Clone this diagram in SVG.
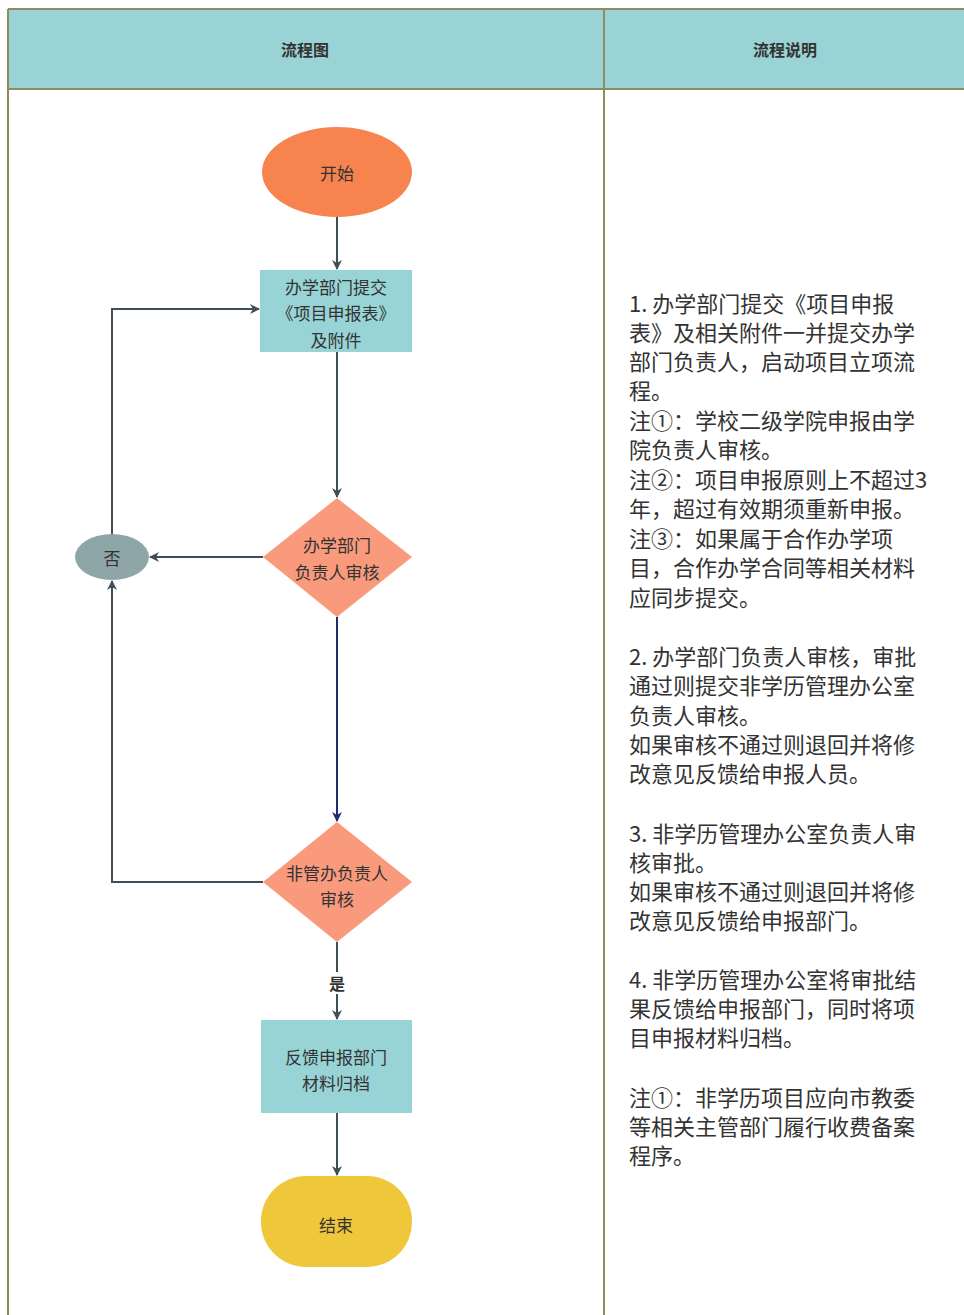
<svg xmlns="http://www.w3.org/2000/svg" width="964" height="1315" viewBox="0 0 964 1315">
<style>
.cjk{font-family:"Noto Sans CJK SC","Liberation Sans",sans-serif;fill:#333333}
.hdr{font-size:16px;font-weight:bold;text-anchor:middle;dominant-baseline:central}
.nt{font-size:17px;text-anchor:middle;dominant-baseline:central}
.desc{font-size:22px;dominant-baseline:central}
.ln{fill:none;stroke:#3E4F57;stroke-width:2}
.grid{stroke:#8C8C5E;stroke-width:2;fill:none}
</style>
<defs>
<marker id="ah" viewBox="0 0 10 10" refX="9" refY="5" markerWidth="10" markerHeight="10" markerUnits="userSpaceOnUse" orient="auto">
<path d="M0,0 L10,5 L0,10 L3,5 Z" fill="#3E4F57"/>
</marker>
<marker id="ahn" viewBox="0 0 10 10" refX="9" refY="5" markerWidth="10" markerHeight="10" markerUnits="userSpaceOnUse" orient="auto">
<path d="M0,0 L10,5 L0,10 L3,5 Z" fill="#1E2F6B"/>
</marker>
</defs>
<rect x="0" y="0" width="964" height="1315" fill="#ffffff"/>
<g id="table">
<rect x="8" y="9" width="960" height="80" fill="#9AD3D5"/>
<path class="grid" d="M8,9 H964 M8,89 H964 M8,9 V1315 M604,9 V1315"/>
<text class="cjk hdr" x="305" y="49">流程图</text>
<text class="cjk hdr" x="785" y="49">流程说明</text>
</g>
<g id="connectors">
<path class="ln" d="M337,217 V269" marker-end="url(#ah)"/>
<path class="ln" d="M337,352 V497" marker-end="url(#ah)"/>
<path class="ln" d="M263,557 H150" marker-end="url(#ah)"/>
<path class="ln" d="M112,534 V309 H259" marker-end="url(#ah)"/>
<path d="M337,617 V821" fill="none" stroke="#1E2F6B" stroke-width="2" marker-end="url(#ahn)"/>
<path class="ln" d="M263,882 H112 V581" marker-end="url(#ah)"/>
<path class="ln" d="M337,942 V972"/>
<path class="ln" d="M337,994 V1019" marker-end="url(#ah)"/>
<text class="cjk" x="337" y="983" font-size="16" font-weight="bold" text-anchor="middle" dominant-baseline="central">是</text>
<path class="ln" d="M337,1113 V1175" marker-end="url(#ah)"/>
</g>
<g id="start">
<ellipse cx="337" cy="172" rx="75" ry="45" fill="#F7834F"/>
<text class="cjk nt" x="337" y="172">开始</text>
</g>
<g id="submit">
<rect x="260" y="270" width="152" height="82" fill="#98D3D6"/>
<text class="cjk nt" x="336" y="286">办学部门提交</text>
<text class="cjk nt" x="336" y="312">《项目申报表》</text>
<text class="cjk nt" x="336" y="339">及附件</text>
</g>
<g id="review1">
<polygon points="337,498 412,557 337,617 263,557" fill="#F99A7D"/>
<text class="cjk nt" x="337" y="544">办学部门</text>
<text class="cjk nt" x="337" y="571">负责人审核</text>
</g>
<g id="no">
<ellipse cx="112" cy="557" rx="37" ry="23" fill="#8FA6A9"/>
<text class="cjk nt" x="112" y="557">否</text>
</g>
<g id="review2">
<polygon points="337,822 412,882 337,942 263,882" fill="#F99A7D"/>
<text class="cjk nt" x="337" y="872">非管办负责人</text>
<text class="cjk nt" x="337" y="898">审核</text>
</g>
<g id="archive">
<rect x="261" y="1020" width="151" height="93" fill="#98D3D6"/>
<text class="cjk nt" x="336" y="1056">反馈申报部门</text>
<text class="cjk nt" x="336" y="1082">材料归档</text>
</g>
<g id="end">
<rect x="261" y="1176" width="151" height="91" rx="45" ry="45" fill="#EEC73A"/>
<text class="cjk nt" x="336" y="1224">结束</text>
</g>
<g id="description">
<text class="cjk desc" x="629">
<tspan x="629" y="302">1. 办学部门提交《项目申报</tspan>
<tspan x="629" y="331">表》及相关附件一并提交办学</tspan>
<tspan x="629" y="360">部门负责人，启动项目立项流</tspan>
<tspan x="629" y="389">程。</tspan>
<tspan x="629" y="419">注①：学校二级学院申报由学</tspan>
<tspan x="629" y="448">院负责人审核。</tspan>
<tspan x="629" y="478">注②：项目申报原则上不超过3</tspan>
<tspan x="629" y="507">年，超过有效期须重新申报。</tspan>
<tspan x="629" y="537">注③：如果属于合作办学项</tspan>
<tspan x="629" y="566">目，合作办学合同等相关材料</tspan>
<tspan x="629" y="596">应同步提交。</tspan>
<tspan x="629" y="655">2. 办学部门负责人审核，审批</tspan>
<tspan x="629" y="684">通过则提交非学历管理办公室</tspan>
<tspan x="629" y="714">负责人审核。</tspan>
<tspan x="629" y="743">如果审核不通过则退回并将修</tspan>
<tspan x="629" y="772">改意见反馈给申报人员。</tspan>
<tspan x="629" y="832">3. 非学历管理办公室负责人审</tspan>
<tspan x="629" y="861">核审批。</tspan>
<tspan x="629" y="890">如果审核不通过则退回并将修</tspan>
<tspan x="629" y="919">改意见反馈给申报部门。</tspan>
<tspan x="629" y="978">4. 非学历管理办公室将审批结</tspan>
<tspan x="629" y="1007">果反馈给申报部门，同时将项</tspan>
<tspan x="629" y="1036">目申报材料归档。</tspan>
<tspan x="629" y="1096">注①：非学历项目应向市教委</tspan>
<tspan x="629" y="1125">等相关主管部门履行收费备案</tspan>
<tspan x="629" y="1154">程序。</tspan>
</text>
</g>
</svg>
